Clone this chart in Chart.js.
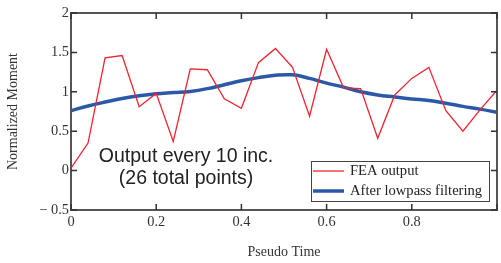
<!DOCTYPE html>
<html><head><meta charset="utf-8">
<script src="https://cdn.jsdelivr.net/npm/chart.js@4.4.0/dist/chart.umd.min.js"></script>
<style>html,body{margin:0;padding:0;background:#fff;}#wrap{width:501px;height:263px;}</style>
</head><body><div id="wrap"><canvas id="c" width="501" height="263"></canvas></div>
<script>
const pseudoTime = [0,0.04,0.08,0.12,0.16,0.2,0.24,0.28,0.32,0.36,0.4,0.44,0.48,0.52,0.56,0.6,0.64,0.68,0.72,0.76,0.8,0.84,0.88,0.92,0.96,1.0];
const feaOutput = [0.03,0.35,1.43,1.46,0.81,0.98,0.37,1.29,1.28,0.91,0.79,1.37,1.55,1.31,0.69,1.54,1.05,1.04,0.41,0.96,1.17,1.31,0.76,0.50,0.77,1.02];
const lowpass = [0.76,0.82,0.87,0.915,0.95,0.975,0.99,1.005,1.04,1.09,1.14,1.18,1.21,1.215,1.17,1.11,1.06,1.00,0.96,0.935,0.91,0.89,0.855,0.815,0.78,0.74];
const xTickValues = [0,0.2,0.4,0.6,0.8,1];
const xTickLabels = ['0','0.2','0.4','0.6','0.8',''];
const yTickValues = [-0.5,0,0.5,1,1.5,2];
const yTickLabels = ['\u2212 0.5','0','0.5','1','1.5','2'];
const seriesNames = ['FEA output','After lowpass filtering'];
const seriesColors = ['#ee2430','#2b59a8'];
const noteLines = ['Output every 10 inc.','(26 total points)'];
const noteAnchor = {x:0.27, y:0.18};

const SERIF = '"Liberation Serif", "DejaVu Serif", serif';
const SANS = '"Liberation Sans", Arial, sans-serif';

function labelFor(values, labels, v){
  for (let i=0;i<values.length;i++) if (Math.abs(values[i]-v)<1e-6) return labels[i];
  return '';
}

const framePlugin = {
  id:'frame',
  afterDatasetsDraw(chart){
    const {ctx, chartArea:a, scales:{x,y}} = chart;
    ctx.save();
    ctx.strokeStyle='#555'; ctx.lineWidth=2;
    ctx.strokeRect(a.left, a.top, a.right-a.left, a.bottom-a.top);
    ctx.strokeStyle='#333'; ctx.lineWidth=1.5;
    ctx.beginPath();
    xTickValues.forEach(v=>{
      const px=x.getPixelForValue(v);
      ctx.moveTo(px,a.bottom); ctx.lineTo(px,a.bottom-6);
      ctx.moveTo(px,a.top); ctx.lineTo(px,a.top+6);
    });
    yTickValues.forEach(v=>{
      const py=y.getPixelForValue(v);
      ctx.moveTo(a.left,py); ctx.lineTo(a.left+6,py);
      ctx.moveTo(a.right,py); ctx.lineTo(a.right-6,py);
    });
    ctx.stroke();

    // annotation text
    ctx.fillStyle='#222';
    ctx.font='19.5px '+SANS;
    ctx.textAlign='center'; ctx.textBaseline='middle';
    const nx=x.getPixelForValue(noteAnchor.x), ny=y.getPixelForValue(noteAnchor.y);
    noteLines.forEach((t,i)=>ctx.fillText(t,nx,ny+i*22));

    // legend
    const bw=178, bh=40;
    const bx=a.right-8-bw, by=a.bottom-9-bh;
    ctx.fillStyle='#fff';
    ctx.fillRect(bx,by,bw,bh);
    ctx.strokeStyle='#444'; ctx.lineWidth=1;
    ctx.strokeRect(bx+0.5,by+0.5,bw,bh);
    ctx.font='14.6px '+SERIF;
    ctx.textAlign='left'; ctx.textBaseline='middle';
    const widths=[1.3,3.5];
    seriesNames.forEach((n,i)=>{
      const ly=by+10+i*20;
      ctx.strokeStyle=seriesColors[i]; ctx.lineWidth=widths[i];
      ctx.beginPath(); ctx.moveTo(bx+2,ly); ctx.lineTo(bx+33,ly); ctx.stroke();
      ctx.fillStyle='#222';
      ctx.fillText(n,bx+39,ly);
    });
    ctx.restore();
  }
};

new Chart(document.getElementById('c'), {
  type:'line',
  data:{
    datasets:[
      {label:seriesNames[0], data:pseudoTime.map((t,i)=>({x:t,y:feaOutput[i]})), borderColor:seriesColors[0], borderWidth:1.3, pointRadius:0, tension:0, fill:false},
      {label:seriesNames[1], data:pseudoTime.map((t,i)=>({x:t,y:lowpass[i]})), borderColor:seriesColors[1], borderWidth:3.5, pointRadius:0, tension:0.4, fill:false}
    ]
  },
  options:{
    responsive:false, devicePixelRatio:1, animation:false,
    layout:{padding:{top:13,right:1,left:0,bottom:0}},
    plugins:{legend:{display:false}, tooltip:{enabled:false}},
    scales:{
      x:{
        type:'linear', min:0, max:1,
        afterBuildTicks:s=>{s.ticks=xTickValues.map(v=>({value:v}));},
        afterFit:s=>{s.height=53;},
        grid:{display:false, drawTicks:false},
        border:{display:false},
        ticks:{padding:4, maxRotation:0, autoSkip:false, color:'#333', font:{family:SERIF,size:14.4},
          callback:v=>labelFor(xTickValues,xTickLabels,v)},
        title:{display:true, text:'Pseudo Time', color:'#333', font:{family:SERIF,size:14}, padding:{top:0,bottom:2}}
      },
      y:{
        type:'linear', min:-0.5, max:2,
        afterBuildTicks:s=>{s.ticks=yTickValues.map(v=>({value:v}));},
        afterFit:s=>{s.width=71;},
        grid:{display:false, drawTicks:false},
        border:{display:false},
        ticks:{padding:2, autoSkip:false, color:'#333', font:{family:SERIF,size:14.4},
          callback:v=>labelFor(yTickValues,yTickLabels,v)},
        title:{display:true, text:'Normalized Moment', color:'#333', font:{family:SERIF,size:14}, padding:{top:5,bottom:0}}
      }
    }
  },
  plugins:[framePlugin]
});
</script></body></html>
